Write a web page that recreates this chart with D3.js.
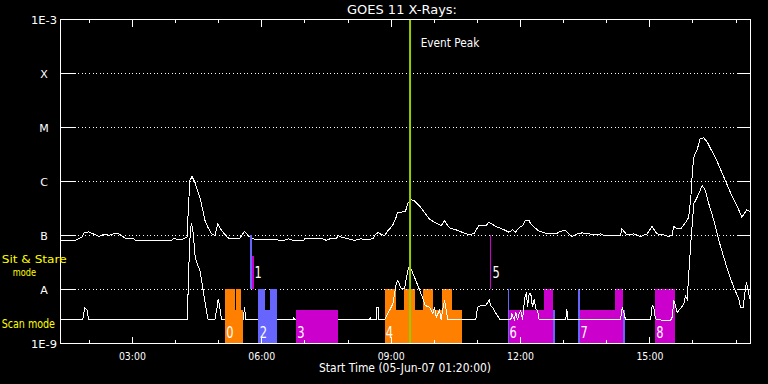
<!DOCTYPE html>
<html><head><meta charset="utf-8">
<script src="https://cdn.jsdelivr.net/npm/d3@7"></script>
<style>
body{margin:0;background:#000}
svg{display:block;background:#000}
text{font-family:'DejaVu Sans',sans-serif;fill:#fff}
</style></head>
<body><svg id="c" width="768" height="384"></svg>
<script>
// ---------- DATA ----------
const title = "GOES 11 X-Rays:";
const xLabel = "Start Time (05-Jun-07 01:20:00)";
const timeDomain = ["01:20", "17:20"];
const xTickLabels = ["03:00", "06:00", "09:00", "12:00", "15:00"];
const yTickValues = [1e-9, 1e-8, 1e-7, 1e-6, 1e-5, 1e-4, 1e-3];
const yTickLabels = ["1E-9", "A", "B", "C", "M", "X", "1E-3"];
const eventPeakTime = "09:26:20";

// 1-8 A channel (upper curve)
const longTimes = ["01:20","01:40","01:45","01:50","01:53","01:59","02:03","02:08","02:13","02:17","02:22","02:27","02:34","02:41","02:45","02:50","03:02","03:04","03:55","03:57","04:09","04:16","04:18","04:20","04:23","04:27","04:32","04:34","04:38","04:41","04:45","04:50","04:55","04:59","05:04","05:11","05:15","05:29","05:36","05:41","05:46","06:02","06:20","06:30","06:37","06:44","06:58","07:00","07:25","07:30","07:35","07:44","07:46","07:51","08:00","08:09","08:18","08:23","08:35","08:37","08:42","08:46","08:51","08:55","09:02","09:07","09:09","09:14","09:20","09:23","09:28","09:32","09:39","09:46","09:53","10:00","10:10","10:14","10:21","10:33","10:42","10:49","10:56","10:58","11:02","11:12","11:16","11:21","11:28","11:37","11:44","11:49","11:53","11:58","12:03","12:07","12:12","12:14","12:19","12:26","12:35","12:44","12:51","12:56","13:03","13:08","13:12","13:19","13:26","13:36","13:45","13:52","13:56","14:19","14:21","14:28","14:38","14:47","14:56","15:03","15:10","15:19","15:26","15:31","15:33","15:38","15:43","15:50","15:54","15:57","15:59","16:01","16:06","16:10","16:15","16:20","16:27","16:34","16:43","16:52","17:01","17:08","17:15","17:20"];
const longFlux = [8.1e-8,8.1e-8,8.7e-8,9.3e-8,1.12e-7,1.17e-7,1.1e-7,1.04e-7,9.6e-8,1.0e-7,1.07e-7,1.0e-7,1.07e-7,1.07e-7,9.9e-8,8.9e-8,8.7e-8,8.1e-8,8.1e-8,8.7e-8,8.4e-8,9.3e-8,3.3e-7,1.04e-6,1.24e-6,9.7e-7,5.9e-7,5.1e-7,2.9e-7,1.9e-7,1.43e-7,1.07e-7,1.0e-7,1.65e-7,1.24e-7,9.6e-8,8.7e-8,8.7e-8,1.19e-7,1.0e-7,8.7e-8,8.3e-8,8.3e-8,8.1e-8,8.7e-8,8.1e-8,8.1e-8,8.7e-8,8.7e-8,8.1e-8,8.7e-8,8.7e-8,1.0e-7,9.3e-8,8.7e-8,8.1e-8,8.7e-8,8.3e-8,8.7e-8,1.0e-7,1.15e-7,1.04e-7,1.0e-7,1.2e-7,1.53e-7,2.18e-7,2.7e-7,2.7e-7,2.8e-7,3.9e-7,4.6e-7,4.45e-7,3.6e-7,2.7e-7,2.04e-7,1.76e-7,1.53e-7,1.9e-7,1.39e-7,1.24e-7,1.1e-7,1.04e-7,1.1e-7,1.24e-7,1.53e-7,1.53e-7,1.76e-7,1.6e-7,1.43e-7,1.28e-7,1.15e-7,1.28e-7,1.15e-7,1.39e-7,1.53e-7,1.9e-7,1.9e-7,1.65e-7,1.43e-7,1.2e-7,1.1e-7,1.07e-7,1.1e-7,1.2e-7,1.24e-7,1.04e-7,9.6e-8,1.07e-7,1.12e-7,1.07e-7,1.04e-7,1.07e-7,1.0e-7,1.0e-7,1.33e-7,1.03e-7,1.07e-7,9.6e-8,1.07e-7,1.47e-7,1.07e-7,1.03e-7,9.6e-8,1.0e-7,1.47e-7,1.33e-7,1.33e-7,1.76e-7,2.18e-7,5.1e-7,1.39e-6,2.8e-6,4.0e-6,6.2e-6,6.45e-6,5.3e-6,3.5e-6,2.28e-6,1.2e-6,6.3e-7,3.6e-7,2.18e-7,3.0e-7,2.7e-7];

// 0.5-4 A channel (lower curve)
const shortTimes = ["01:20","01:51","01:53","01:54","01:57","01:59","04:17","04:17:30","04:19:30","04:21","04:22:20","04:24","04:25:30","04:27:20","04:31","04:34","04:38:30","04:43","04:45:30","04:54:40","04:58","04:59:25","05:01:40","05:04","05:34:10","05:36","05:37:50","06:43:50","06:44:40","06:45:30","08:29:55","08:31","08:31:45","08:39:10","08:39:40","08:42","08:42:25","08:50:50","08:57:45","09:02:20","09:07:05","09:09:20","09:14","09:18:35","09:22:20","09:24:10","09:27","09:32:30","09:37:05","09:42:40","09:47:25","09:53:25","09:58","10:00:20","10:02:45","10:07:20","10:09:40","10:11:55","10:14:15","10:16:40","10:18:50","10:57:50","11:00:10","11:04:50","11:11:45","11:16:25","11:18:40","11:21","11:24:50","11:29:25","11:31:10","11:46:30","11:47:55","11:51:15","11:53:30","11:55:50","11:58:10","12:00:25","12:02:45","12:06","12:08:20","12:09:45","12:12:05","12:14:20","12:16:40","12:19:05","12:21:20","12:23:40","12:26","13:03","13:04:25","13:05:50","14:19:05","14:21:30","14:23:50","14:26:05","15:00:55","15:03:10","15:05:25","15:07:50","15:19:25","15:28:40","15:31:05","15:33:20","15:35:35","15:38","15:42:35","15:47:10","15:49:35","15:51:55","15:54:10","15:56:30","16:01:05","16:05:50","16:12:45","16:17:25","16:22","16:29","16:35:55","16:42:50","16:49:50","16:56:45","17:03:40","17:06:05","17:09:50","17:12","17:14:25","17:16:50","17:19"];
const shortFlux = [2.75e-9,2.75e-9,4.1e-9,4.6e-9,4.1e-9,2.75e-9,2.75e-9,1.0e-8,6.1e-8,1.43e-7,1.6e-7,1.33e-7,8.1e-8,4.0e-8,2.8e-8,2.25e-8,9.6e-9,4.1e-9,2.75e-9,2.75e-9,4.7e-9,6.7e-9,4.7e-9,2.75e-9,2.75e-9,4.7e-9,2.75e-9,2.75e-9,3.07e-9,2.75e-9,2.75e-9,3.07e-9,2.75e-9,2.75e-9,4.7e-9,4.7e-9,2.75e-9,2.75e-9,4.1e-9,5.4e-9,1.28e-8,1.47e-8,1.03e-8,1.03e-8,1.95e-8,2.59e-8,2.52e-8,1.69e-8,1.19e-8,7.7e-9,5.05e-9,4.7e-9,3.55e-9,4.7e-9,3.07e-9,4.1e-9,2.75e-9,4.4e-9,6.3e-9,4.1e-9,2.75e-9,2.75e-9,4.7e-9,5.05e-9,5.05e-9,6.45e-9,5.05e-9,4.7e-9,3.8e-9,3.07e-9,2.75e-9,2.75e-9,3.55e-9,2.75e-9,3.8e-9,2.75e-9,3.55e-9,4.1e-9,2.75e-9,7.2e-9,8.9e-9,4.7e-9,8.3e-9,8.3e-9,4.7e-9,6.7e-9,4.4e-9,4.1e-9,2.75e-9,2.75e-9,4.4e-9,2.75e-9,2.75e-9,4.7e-9,3.8e-9,2.75e-9,2.75e-9,5.05e-9,4.7e-9,2.85e-9,2.67e-9,2.67e-9,3.07e-9,6.3e-9,5.05e-9,3.8e-9,4.4e-9,5.4e-9,7.7e-9,6.7e-9,1.95e-8,6.1e-8,3.86e-7,5.1e-7,8.4e-7,6.8e-7,3.86e-7,1.9e-7,8.1e-8,3.96e-8,1.95e-8,1.1e-8,6.7e-9,4.58e-9,4.58e-9,8.3e-9,1.37e-8,9.6e-9,6.7e-9];

// Observation intervals (study number, start, end, study type, mode, level)
const obsStudy = [0,0,0, 1,1, 2,2,2, 3, 4,4,4,4,4, 5, 6,6,6,6, 7,7,7,7, 8];
const obsStart = ["05:09:35","05:09:35","05:25:20", "05:44:20","05:47:05", "05:55:30","05:55:30","06:11:45", "06:48:20", "08:51:45","08:51:45","09:18:35","09:45:00","10:11:30", "11:17:50", "11:42:55","11:44:40","12:33:25","12:45:30", "13:20:20","13:23:05","14:12:10","14:23:40", "15:07:50"];
const obsEnd   = ["05:34:10","05:23:05","05:32:15", "05:47:05","05:49:30", "06:21:55","06:05:15","06:21:55", "07:46:25", "10:38:55","09:07:30","09:33:35","09:58:55","10:25:00", "11:19:40", "11:44:40","12:45:30","12:45:30","12:48:15", "13:23:05","14:23:40","14:23:40","14:26:05", "15:35:35"];
const obsType  = ["O","O","O", "B","P", "B","B","B", "P", "O","O","O","O","O", "P", "B","P","P","B", "B","P","P","B", "P"];
const obsMode  = ["scan","scan","scan", "sit","sit", "scan","scan","scan", "scan", "scan","scan","scan","scan","scan", "sit", "scan","scan","scan","scan", "scan","scan","scan","scan", "scan"];
const obsLevel = ["part","full","full", "full","part", "part","full","full", "part", "part","full","full","full","full", "full", "full","part","full","part", "full","part","full","part", "full"];

const studyLabels = ["0","1","2","3","4","5","6","7","8"];
const studyLabelTimes = ["05:10:30","05:50:00","05:57:20","06:49:20","08:52:30","11:21:00","11:44:40","13:23:30","15:08:50"];
const studyLabelModes = ["scan","sit","scan","scan","scan","sit","scan","scan","scan"];

const modeLabels = [["Sit & Stare", "mode"], ["Scan mode"]];

// ---------- STYLE ----------
const typeColor = {O: "#ff8000", B: "#6666ff", P: "#cc00cc"};
const studiesOverCurve = 3;   // the first studies were painted after the light curves

// ---------- BUILD ----------
const T = s => { const [h, m, sec = 0] = s.split(":").map(Number); return new Date(Date.UTC(2007, 5, 5, h, m, sec)); };
const svg = d3.select("#c");
const L = 60.5, R = 750.5, TOP = 19.5, BOT = 343.5;
const x = d3.scaleUtc().domain(timeDomain.map(T)).range([L, R]);
const y = d3.scaleLog().domain([1e-9, 1e-3]).range([BOT, TOP]);

const band = {scan: [1e-9, 1e-8], sit: [1e-8, 1e-7]};
const partFrac = 0.61;

const obs = obsStudy.map((s, i) => ({s, a: T(obsStart[i]), b: T(obsEnd[i]), type: obsType[i], mode: obsMode[i], level: obsLevel[i]}));
const underG = svg.append("g");
const gridG = svg.append("g").attr("stroke", "#fff").attr("shape-rendering", "crispEdges");
const curveG = svg.append("g");
const overG = svg.append("g");

obs.forEach(o => {
  const y0 = y(band[o.mode][0]) - 0.5, yTop = y(band[o.mode][1]) - 0.5;
  const yt = o.level === "full" ? yTop : y0 - partFrac * (y0 - yTop);
  (o.s <= studiesOverCurve ? overG : underG).append("rect")
    .attr("x", x(o.a) - 0.5).attr("width", Math.max(1, x(o.b) - x(o.a)))
    .attr("y", yt).attr("height", y0 - yt)
    .attr("fill", typeColor[o.type]).attr("shape-rendering", "crispEdges");
});

// gridlines (dotted) + side ticks
yTickValues.slice(1, -1).forEach(v => {
  gridG.append("line").attr("x1", L + 14).attr("x2", R - 14).attr("y1", y(v)).attr("y2", y(v))
    .attr("stroke-dasharray", "1,2.6");
  gridG.append("line").attr("x1", L).attr("x2", L + 14).attr("y1", y(v)).attr("y2", y(v));
  gridG.append("line").attr("x1", R - 14).attr("x2", R).attr("y1", y(v)).attr("y2", y(v));
});

// curves
const line = d3.line().x(d => x(d.t)).y(d => y(d.v));
const longData = longTimes.map((t, i) => ({t: T(t), v: longFlux[i]}));
const shortData = shortTimes.map((t, i) => ({t: T(t), v: shortFlux[i]}));
[longData, shortData].forEach(dat => {
  curveG.append("path").datum(dat).attr("d", line).attr("fill", "none")
    .attr("stroke", "#fff").attr("stroke-width", 1).attr("shape-rendering", "crispEdges");
});

// event peak
const xp = x(T(eventPeakTime));
svg.append("line").attr("x1", xp).attr("x2", xp).attr("y1", TOP).attr("y2", BOT)
  .attr("stroke", "#99cc00").attr("stroke-width", 2);
svg.append("text").attr("x", 420.7).attr("y", 46.7).attr("font-size", 11.5)
  .attr("textLength", 58.6).attr("lengthAdjust", "spacingAndGlyphs").text("Event Peak");

// frame
svg.append("rect").attr("x", L).attr("y", TOP).attr("width", R - L).attr("height", BOT - TOP)
  .attr("fill", "none").attr("stroke", "#fff").attr("shape-rendering", "crispEdges");

// x ticks
const tickG = svg.append("g").attr("stroke", "#fff").attr("shape-rendering", "crispEdges");
d3.utcHour.every(1).range(T(timeDomain[0]), T(timeDomain[1])).forEach(h => {
  const major = h.getUTCHours() % 3 === 0;
  const len = major ? 7 : 3.5;
  const xx = Math.round(x(h) - 0.5) + 0.5;
  tickG.append("line").attr("x1", xx).attr("x2", xx).attr("y1", BOT).attr("y2", BOT - len);
  tickG.append("line").attr("x1", xx).attr("x2", xx).attr("y1", TOP).attr("y2", TOP + len);
});
xTickLabels.forEach(s => {
  svg.append("text").attr("x", x(T(s))).attr("y", 359.5).attr("text-anchor", "middle")
    .attr("font-size", 11).attr("textLength", 27).attr("lengthAdjust", "spacingAndGlyphs").text(s);
});

// y labels
yTickValues.forEach((v, i) => {
  const s = yTickLabels[i];
  const t = svg.append("text").attr("x", 44).attr("y", y(v) + 4).attr("text-anchor", "middle")
    .attr("font-size", 11).text(s);
  if (s.length > 1) t.attr("textLength", 26).attr("lengthAdjust", "spacingAndGlyphs");
});

// title and x label
svg.append("text").attr("x", 402).attr("y", 14).attr("text-anchor", "middle").attr("font-size", 12)
  .attr("textLength", 110).attr("lengthAdjust", "spacingAndGlyphs").text(title);
svg.append("text").attr("x", 405).attr("y", 372).attr("text-anchor", "middle").attr("font-size", 12)
  .attr("textLength", 172).attr("lengthAdjust", "spacingAndGlyphs").text(xLabel);

// mode labels
const yel = "#ffff00";
svg.append("text").attr("x", 1.7).attr("y", 262.5).attr("font-size", 11).style("fill", yel)
  .attr("textLength", 65).attr("lengthAdjust", "spacingAndGlyphs").text(modeLabels[0][0]);
svg.append("text").attr("x", 12.7).attr("y", 276).attr("font-size", 11).style("fill", yel)
  .attr("textLength", 23.3).attr("lengthAdjust", "spacingAndGlyphs").text(modeLabels[0][1]);
svg.append("text").attr("x", 1.7).attr("y", 328).attr("font-size", 12).style("fill", yel)
  .attr("textLength", 53.3).attr("lengthAdjust", "spacingAndGlyphs").text(modeLabels[1][0]);

// study numbers
studyLabels.forEach((s, i) => {
  const m = studyLabelModes[i];
  const yy = m === "scan" ? y(band.scan[0]) - 5.5 : y(band.sit[0]) - 12;
  svg.append("text").attr("x", x(T(studyLabelTimes[i]))).attr("y", yy).attr("font-size", 15)
    .attr("textLength", 7.3).attr("lengthAdjust", "spacingAndGlyphs").text(s);
});
</script></body></html>
